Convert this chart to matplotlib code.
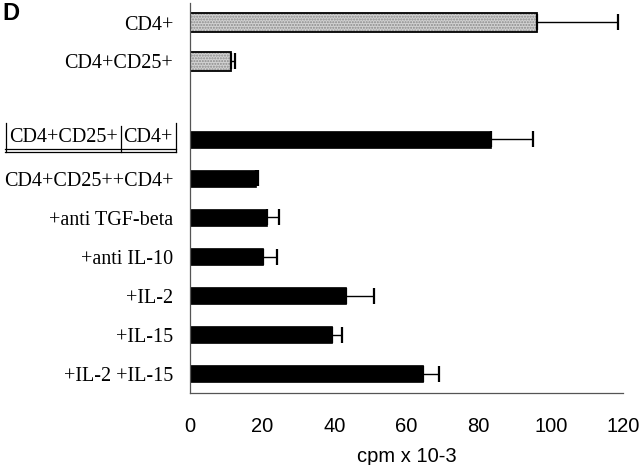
import matplotlib
matplotlib.use("Agg")
import matplotlib.pyplot as plt
from matplotlib.lines import Line2D
import numpy as np

# Data
categories = ["CD4+", "CD4+CD25+", "CD4+CD25+ | CD4+", "CD4+CD25++CD4+",
              "+anti TGF-beta", "+anti IL-10", "+IL-2", "+IL-15", "+IL-2 +IL-15"]
positions = [0, 1, 3, 4, 5, 6, 7, 8, 9]
values = [96.3, 11.3, 83.4, 18.4, 21.3, 20.2, 43.2, 39.4, 64.7]
errors = [22.4, 1.2, 11.7, 0.5, 3.4, 4.0, 7.9, 2.7, 4.3]
groups = ["gray", "gray", "black", "black", "black", "black", "black", "black", "black"]
xticks = [0, 20, 40, 60, 80, 100, 120]
xlabel = "cpm x 10-3"
panel = "D"

W, H = 640, 465
fig = plt.figure(figsize=(W / 100, H / 100), dpi=100)
ax = fig.add_axes([190 / W, 1 - 393 / H, (623 - 190) / W, (393 - 3) / H])

serif = ["Liberation Serif", "DejaVu Serif"]
sans = ["Liberation Sans", "DejaVu Sans"]
FS = 14.5

for p, v, e, g in zip(positions, values, errors, groups):
    if g == "gray":
        ax.barh(p, v, height=0.5, color="#d2d2d2", edgecolor="#8a8a8a", hatch="......",
                linewidth=0, zorder=2)
        ax.barh(p, v, height=0.5, fill=False, edgecolor="black", linewidth=1.3, zorder=2.5)
    else:
        ax.barh(p, v, height=0.45, color="black", edgecolor="black", linewidth=0.5, zorder=2)
    ax.errorbar(v, p, xerr=[[0], [e]], fmt="none", ecolor="black",
                elinewidth=1.0, capsize=6, capthick=1.6, zorder=3)

ax.set_xlim(0, 120)
ax.set_ylim(9.5, -0.5)
ax.set_xticks(xticks)
ax.set_xticklabels([str(t) for t in xticks], fontfamily=sans, fontsize=14.5)
ax.tick_params(axis="x", length=0, pad=17)
ax.tick_params(axis="y", length=0, pad=12)

ax.set_yticks(positions)
ticklabels = [c if i != 2 else "" for i, c in enumerate(categories)]
ax.set_yticklabels(ticklabels, fontfamily=serif, fontsize=FS)

ax.set_xlabel(xlabel, fontfamily=sans, fontsize=14.5, labelpad=8)

for s in ["top", "right"]:
    ax.spines[s].set_visible(False)
ax.spines["left"].set_color("#555555")
ax.spines["left"].set_linewidth(0.9)
ax.spines["bottom"].set_color("#555555")
ax.spines["bottom"].set_linewidth(0.9)

# Boxed label for the third bar
left_part, right_part = categories[2].split(" | ")
def fp(x, y):
    return x / W, 1 - y / H

ytxt = 138
fig.text(*fp(118, ytxt), left_part, ha="right", va="center", fontfamily=serif, fontsize=FS)
fig.text(*fp(123, ytxt), right_part, ha="left", va="center", fontfamily=serif, fontsize=FS)
for (x0, y0, x1, y1) in [(5.5, 123, 5.5, 152), (120.5, 126, 120.5, 152), (175.5, 123, 175.5, 152),
                         (5, 149, 176, 149), (5, 152.5, 176, 152.5)]:
    (a, b), (c, d) = fp(x0, y0), fp(x1, y1)
    fig.add_artist(Line2D([a, c], [b, d], transform=fig.transFigure, color="black", linewidth=0.9))

fig.text(*fp(2, 13), panel, ha="left", va="center", fontfamily=sans, fontsize=17, fontweight="bold")

fig.savefig("out.png", dpi=100)
